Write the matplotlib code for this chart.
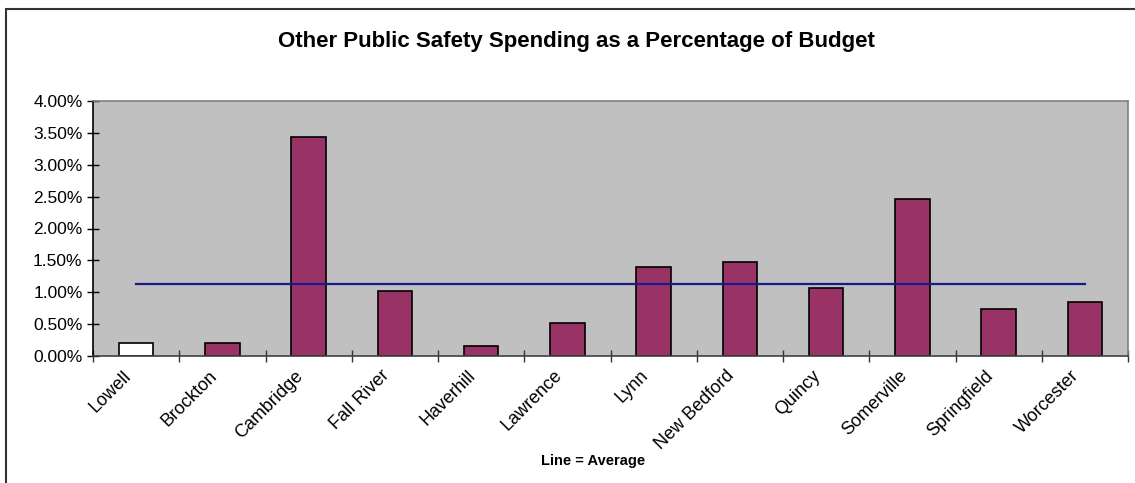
import matplotlib.pyplot as plt
import matplotlib.patches as patches
import matplotlib.transforms as mtransforms
import numpy as np

cities = ["Lowell", "Brockton", "Cambridge", "Fall River", "Haverhill", "Lawrence",
          "Lynn", "New Bedford", "Quincy", "Somerville", "Springfield", "Worcester"]
share = [0.21, 0.21, 3.44, 1.02, 0.16, 0.51, 1.39, 1.48, 1.06, 2.47, 0.74, 0.84]
average = 1.13

plt.rcParams['font.family'] = ['Liberation Sans', 'DejaVu Sans']

my_dpi = 100
fig = plt.figure(figsize=(1135 / my_dpi, 483 / my_dpi), dpi=my_dpi)

# chart frame
frame = patches.Rectangle((6 / 1135, -0.05), 1.2, (483 - 9) / 483 + 0.05,
                          transform=fig.transFigure, fill=False,
                          edgecolor="#333333", linewidth=1.5)
fig.patches.append(frame)

ax = fig.add_axes([93 / 1135, (483 - 356) / 483, (1128 - 93) / 1135, 255 / 483])
ax.set_facecolor("#C0C0C0")

x = np.arange(len(cities))
colors = ["white"] + ["#993366"] * (len(cities) - 1)
ax.bar(x, share, width=0.4, color=colors, edgecolor="black", linewidth=1.2, zorder=2)
ax.plot([x[0], x[-1]], [average, average], color="#1a1a8c", linewidth=1.6, zorder=3)

ax.set_xlim(-0.5, len(cities) - 0.5)
ax.set_ylim(0, 4)
ticks = np.arange(0, 4.01, 0.5)
ax.set_yticks(ticks)
ax.set_yticklabels(["%.2f%%" % v for v in ticks], fontsize=12.5)

ax.set_xticks(np.arange(-0.5, len(cities)), minor=True)
ax.tick_params(axis="x", which="minor", direction="inout", length=9, width=1, color="#333333")
ax.tick_params(axis="x", which="major", length=0, pad=8)
ax.tick_params(axis="y", direction="inout", length=9, width=1, pad=3)
ax.set_xticks(x)
ax.set_xticklabels(cities, rotation=45, ha="right", rotation_mode="anchor", fontsize=13)

for side in ["top", "right"]:
    ax.spines[side].set_color("#808080")
ax.spines["left"].set_color("black")
ax.spines["bottom"].set_color("#404040")
for s in ax.spines.values():
    s.set_linewidth(1.2)

fig.text(576 / 1135, 1 - 42 / 483, "Other Public Safety Spending as a Percentage of Budget",
         ha="center", va="center", fontsize=16, fontweight="bold")
fig.text(593 / 1135, 1 - 461 / 483, "Line = Average", ha="center", va="center",
         fontsize=10.5, fontweight="bold")

# nudge the category labels left so they hang off the tick
shift = mtransforms.ScaledTranslation(-14 / my_dpi, 0, fig.dpi_scale_trans)
for tick in ax.xaxis.get_major_ticks():
    tick.label1.set_transform(tick.label1.get_transform() + shift)

fig.savefig("out.png", dpi=my_dpi)
